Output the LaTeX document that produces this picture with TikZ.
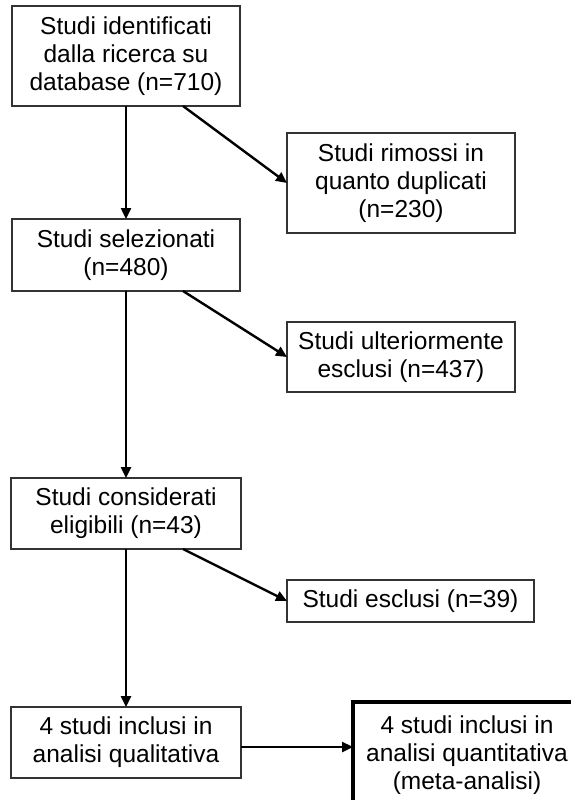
\documentclass[tikz,border=0pt]{standalone}
\usepackage{fontspec}
\setmainfont{Liberation Sans}
\usetikzlibrary{arrows.meta}
\begin{document}
\begin{tikzpicture}[x=1pt,y=-1pt,
  box/.style={draw=black!80, line width=1.1pt, inner sep=0pt, outer sep=0pt, align=center,
    font=\fontsize{24.5}{28}\selectfont},
  bigbox/.style={box, draw=black, line width=4pt},
  flow/.style={line width=2.4pt, -{Triangle[length=11pt,width=10pt]}}]
\useasboundingbox (0,0) rectangle (570,800);
\node[box, minimum width=228pt, minimum height=100pt] (b1) at (126,56) {Studi identificati\\dalla ricerca su\\database (n=710)};
\node[box, minimum width=228pt, minimum height=100pt] (b2) at (401,183) {Studi rimossi in\\quanto duplicati\\(n=230)};
\node[box, minimum width=228pt, minimum height=72pt] (b3) at (126,255) {Studi selezionati\\(n=480)};
\node[box, minimum width=228pt, minimum height=70pt] (b4) at (401,357) {Studi ulteriormente\\esclusi (n=437)};
\node[box, minimum width=230pt, minimum height=71pt] (b5) at (126,513.5) {Studi considerati\\eligibili (n=43)};
\node[box, minimum width=247pt, minimum height=42pt] (b6) at (410.5,601) {Studi esclusi (n=39)};
\node[box, minimum width=230pt, minimum height=71pt] (b7) at (126,742.5) {4 studi inclusi in\\analisi qualitativa};
\node[bigbox, minimum width=228pt, minimum height=106pt] (b8) at (467,755) {4 studi inclusi in\\analisi quantitativa\\(meta-analisi)};
\draw[flow] (b1.south) -- (b3.north);
\draw[flow] ([xshift=-57pt]b1.south east) -- (b2.west);
\draw[flow] (b3.south) -- (b5.north);
\draw[flow] ([xshift=-57pt]b3.south east) -- (b4.west);
\draw[flow] (b5.south) -- (b7.north);
\draw[flow] ([xshift=-58pt]b5.south east) -- (b6.west);
\draw[flow] ([yshift=-4.5pt]b7.east) -- ([yshift=-4.5pt]b7.east -| b8.west);
\end{tikzpicture}
\end{document}
